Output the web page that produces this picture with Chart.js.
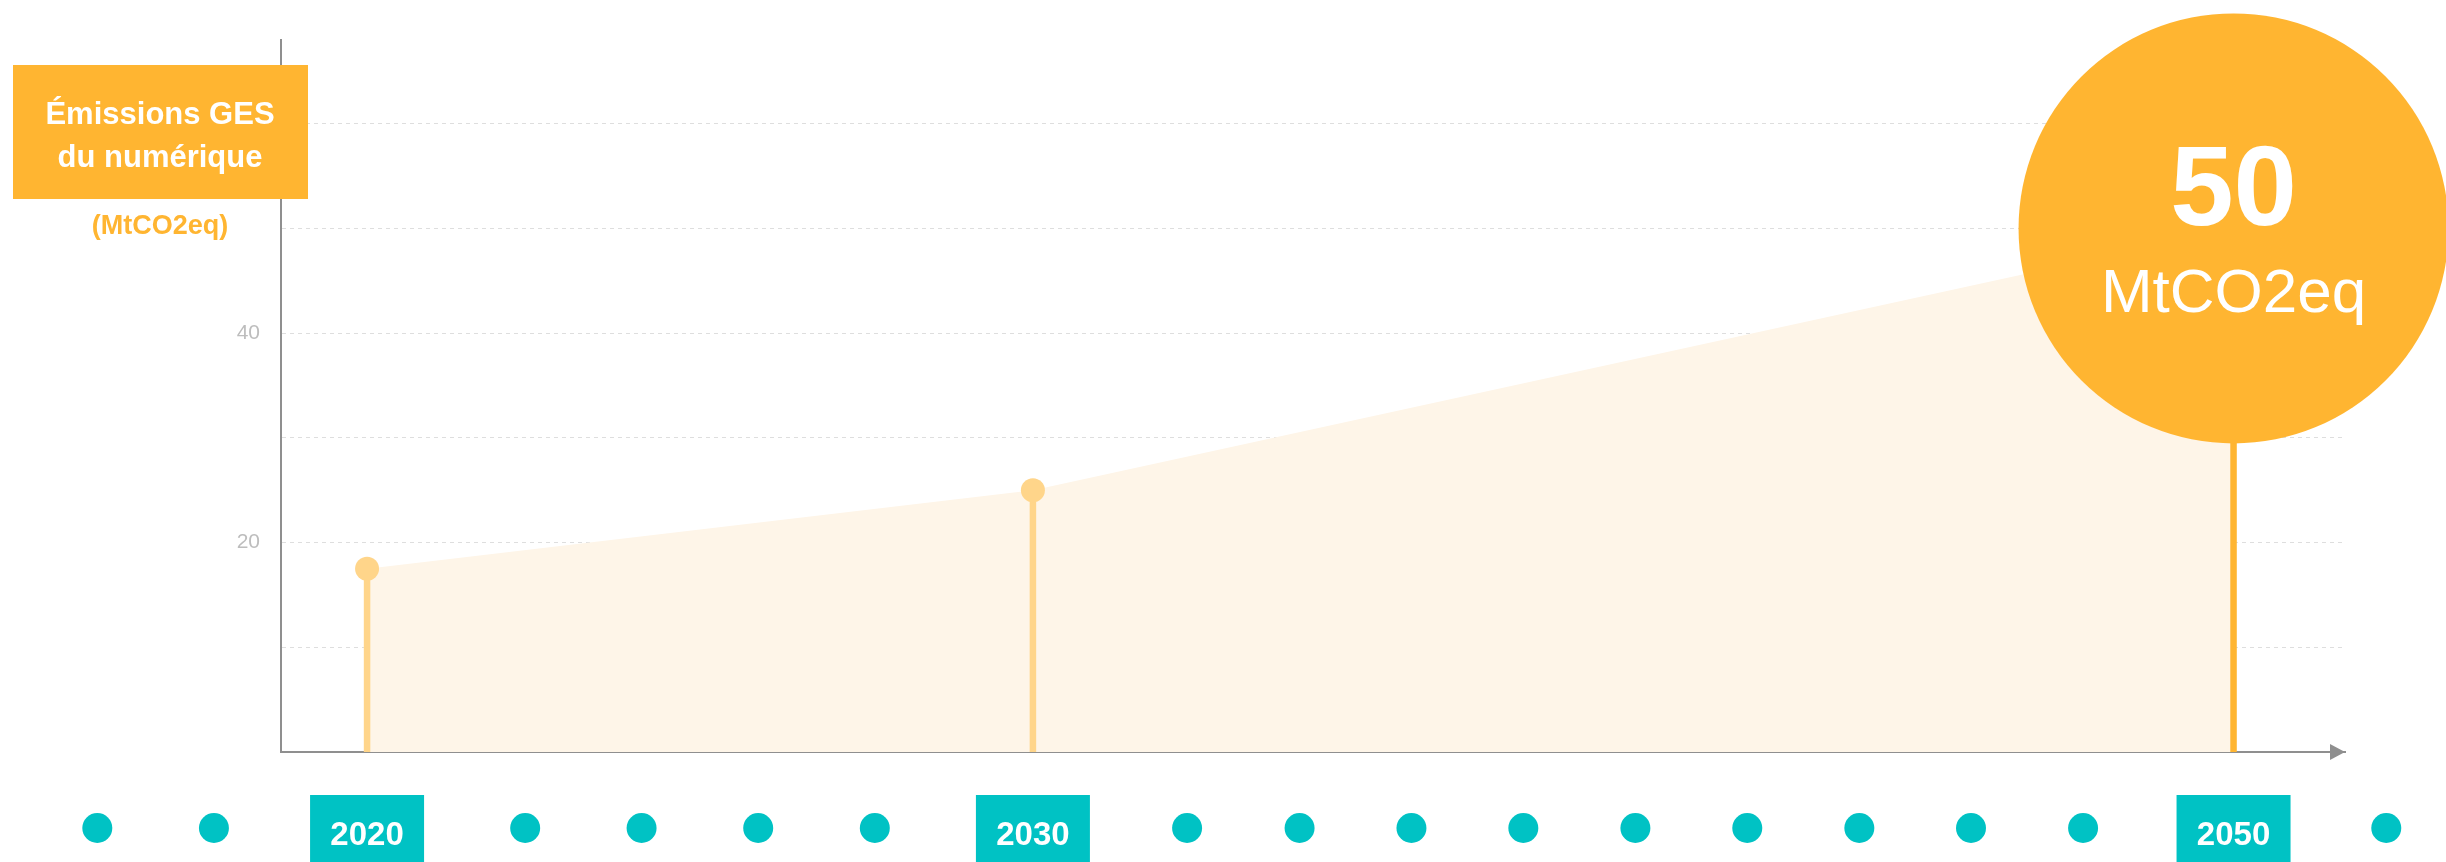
<!DOCTYPE html>
<html><head><meta charset="utf-8">
<script src="https://cdn.jsdelivr.net/npm/chart.js@4/dist/chart.umd.min.js"></script>
<style>html,body{margin:0;padding:0;background:#fff;overflow:hidden}canvas{display:block}</style>
</head><body>
<canvas id="c" width="2446" height="862"></canvas>
<script>
// ---- data ----
const years = ['2020', '2030', '2050'];
const emissions = [17.5, 25, 50];
const yearPos = [4.17, 36.43, 94.6];
const timelineLabels = ['', '', '2020', '', '', '', '', '2030', '', '', '', '', '', '', '', '', '', '2050', ''];
const timelinePos = [-8.90, -3.25, 4.17, 11.83, 17.47, 23.12, 28.77, 36.43, 43.90, 49.35, 54.77, 60.19, 65.62, 71.04, 76.47, 81.88, 87.31, 94.6, 102.0];
const yTickLabels = [20, 40, 60];
const titleLines = ['Émissions GES', 'du numérique'];
const unitLabel = '(MtCO2eq)';
const bigUnit = 'MtCO2eq';

// ---- styles ----
const ORANGE = '#FFB531';
const LIGHT = '#FFD58A';
const AREA = '#FEF5E8';
const TEAL = '#00C2C4';
const AXIS = '#8f8f8f';
const FONT = "'Liberation Sans', Arial, sans-serif";

const pts = years.map((yr, i) => ({x: yearPos[i], y: emissions[i]}));
const stems = years.map((yr, i) => ({
  type: 'line',
  data: [{x: yearPos[i], y: 0}, {x: yearPos[i], y: emissions[i]}],
  borderColor: i === years.length - 1 ? ORANGE : LIGHT,
  borderWidth: 6.5,
  pointRadius: 0,
  fill: false,
  clip: false
}));

const decor = {
  id: 'decor',
  afterDraw(chart) {
    const {ctx, chartArea: a, scales: {x, y}} = chart;
    ctx.save();
    // arrow head on x axis
    ctx.fillStyle = AXIS;
    ctx.beginPath();
    ctx.moveTo(a.right, a.bottom);
    ctx.lineTo(a.right - 15, a.bottom - 8);
    ctx.lineTo(a.right - 15, a.bottom + 8);
    ctx.closePath();
    ctx.fill();

    // timeline row
    const rowY = a.bottom + 76;
    timelinePos.forEach((p, i) => {
      const px = x.getPixelForValue(p);
      ctx.fillStyle = TEAL;
      if (timelineLabels[i]) {
        ctx.fillRect(px - 57, a.bottom + 43, 114, 90);
        ctx.fillStyle = '#fff';
        ctx.font = 'bold 33px ' + FONT;
        ctx.textAlign = 'center';
        ctx.textBaseline = 'alphabetic';
        ctx.fillText(timelineLabels[i], px, a.bottom + 93);
      } else {
        ctx.beginPath();
        ctx.arc(px, rowY, 15, 0, Math.PI * 2);
        ctx.fill();
      }
    });

    // big value bubble text
    const li = emissions.length - 1;
    const cx = x.getPixelForValue(yearPos[li]);
    const cy = y.getPixelForValue(emissions[li]);
    ctx.fillStyle = '#fff';
    ctx.textAlign = 'center';
    ctx.textBaseline = 'alphabetic';
    ctx.font = 'bold 114px ' + FONT;
    ctx.fillText(String(emissions[li]), cx, cy - 3);
    ctx.font = '62px ' + FONT;
    ctx.fillText(bigUnit, cx, cy + 84);

    // title box
    ctx.fillStyle = ORANGE;
    ctx.fillRect(13, 65, 295, 134);
    ctx.fillStyle = '#fff';
    ctx.font = 'bold 31px ' + FONT;
    ctx.fillText(titleLines[0], 160, 124);
    ctx.fillText(titleLines[1], 160, 167);
    ctx.fillStyle = ORANGE;
    ctx.font = 'bold 27px ' + FONT;
    ctx.fillText(unitLabel, 160, 234);
    ctx.restore();
  }
};

new Chart(document.getElementById('c'), {
  type: 'line',
  data: {
    datasets: [
      {
        type: 'line',
        data: pts,
        showLine: false,
        pointRadius: [12, 12, 215],
        pointHoverRadius: [12, 12, 215],
        pointBackgroundColor: [LIGHT, LIGHT, ORANGE],
        pointBorderWidth: 0,
        borderWidth: 0,
        clip: false
      },
      ...stems,
      {
        type: 'line',
        data: pts,
        borderWidth: 0,
        borderColor: 'transparent',
        backgroundColor: AREA,
        pointRadius: 0,
        fill: 'origin',
        tension: 0
      }
    ]
  },
  options: {
    responsive: false,
    animation: false,
    devicePixelRatio: 1,
    layout: {autoPadding: false, padding: {left: 0, right: 101, top: 40, bottom: 110}},
    plugins: {legend: {display: false}, tooltip: {enabled: false}},
    scales: {
      x: {
        type: 'linear',
        min: 0, max: 100,
        ticks: {display: false},
        grid: {display: true, drawOnChartArea: false, drawTicks: false, color: 'transparent'},
        border: {display: true, color: AXIS, width: 2},
        afterFit: s => { s.height = 0; }
      },
      y: {
        min: 0, max: 68,
        ticks: {
          stepSize: 10,
          includeBounds: false,
          padding: 21,
          color: '#bdbdbd',
          font: {family: FONT, size: 21},
          callback: v => yTickLabels.includes(v) ? String(v) : ''
        },
        grid: {
          drawTicks: false,
          color: c => (c.tick && c.tick.value > 0 && c.tick.value < 68) ? '#dedede' : 'transparent',
          lineWidth: 1
        },
        border: {display: true, color: AXIS, width: 2, dash: [4, 4]},
        afterFit: s => { s.width = 281; }
      }
    }
  },
  plugins: [decor]
});
</script>
</body></html>
